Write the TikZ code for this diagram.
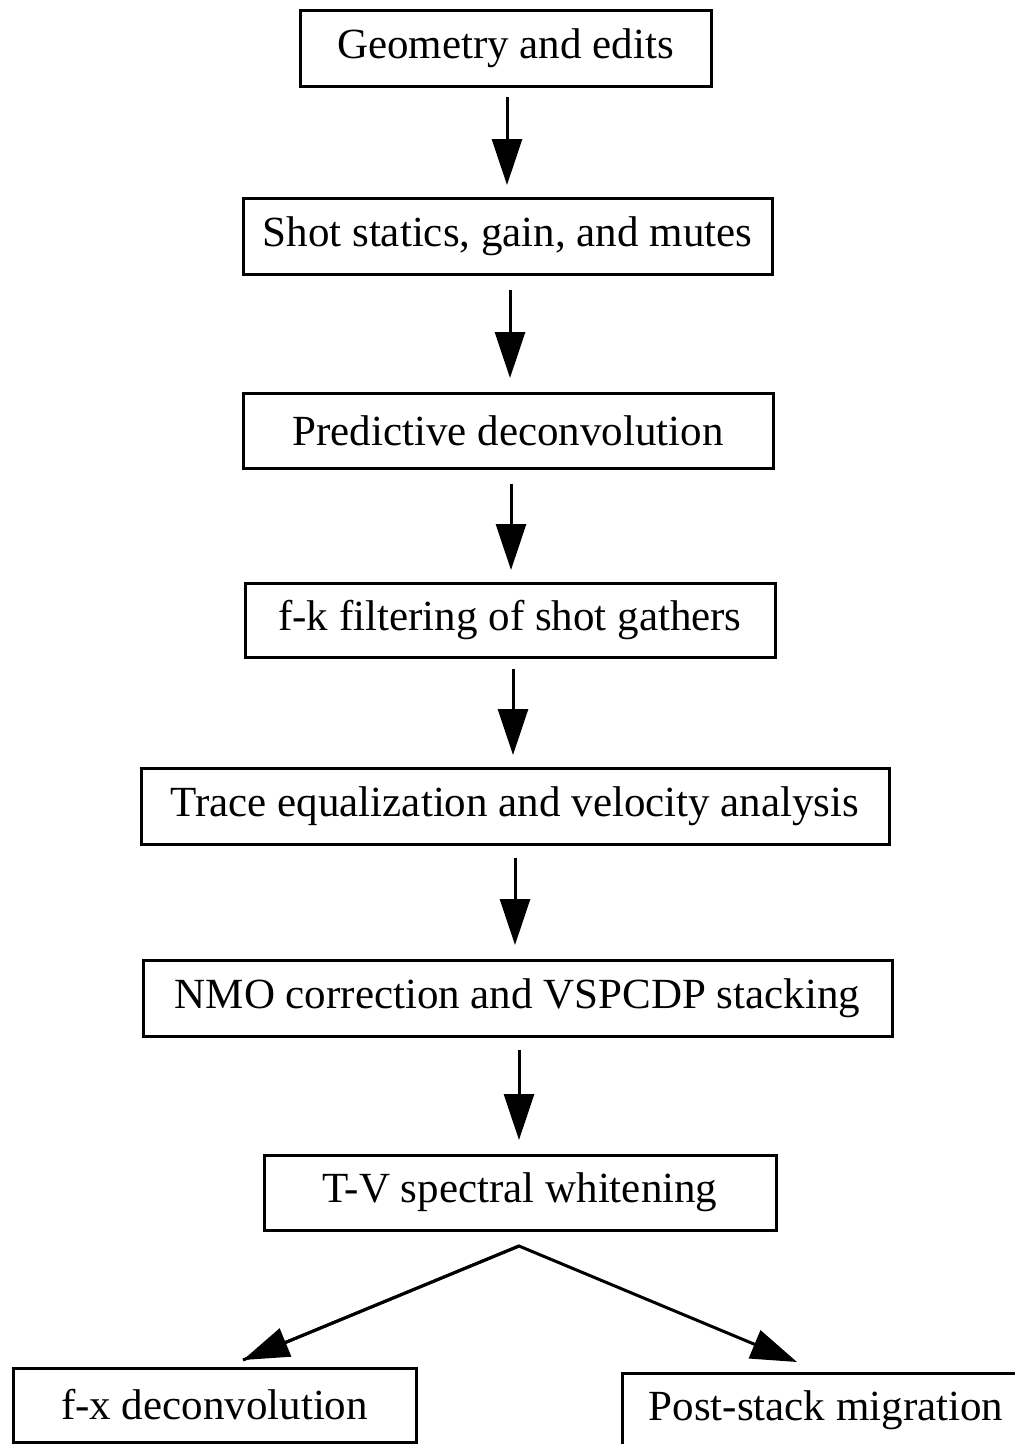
\documentclass[tikz,border=0pt]{standalone}
\usepackage{fontspec}
\setmainfont{Liberation Serif}
\usetikzlibrary{arrows.meta,calc}
\begin{document}
\begin{tikzpicture}[x=1pt,y=-1pt,
  stepbox/.style={draw=black,line width=3pt,inner sep=0pt,outer sep=0pt,
    font=\fontsize{43}{50}\selectfont,minimum height=#1},
  stepbox/.default=76pt,
  arr/.style={line width=3pt,-{Triangle[length=46pt,width=30pt]}}]
\useasboundingbox (0,0) rectangle (1015,1444);
\node[stepbox,minimum width=411pt] (b1) at (505.5,48) {Geometry and edits};
\node[stepbox,minimum width=529pt] (b2) at (507.5,236) {Shot statics, gain, and mutes};
\node[stepbox=75pt,minimum width=530pt] (b3) at (508,430.5) {Predictive deconvolution};
\node[stepbox=74pt,minimum width=530pt] (b4) at (510,620) {f-k filtering of shot gathers};
\node[stepbox,minimum width=748pt] (b5) at (515,806) {Trace equalization and velocity analysis};
\node[stepbox,minimum width=749pt] (b6) at (517.5,998) {NMO correction and VSPCDP stacking};
\node[stepbox=75pt,minimum width=512pt] (b7) at (520,1192.5) {T-V spectral whitening};
\node[stepbox=74pt,minimum width=403pt] (b8) at (214.5,1405) {f-x deconvolution};
\node[stepbox=74pt,minimum width=408pt] (b9) at (826,1410) {Post-stack migration};
\draw[arr,shorten <=11pt,shorten >=13pt] ([xshift=1.5pt]b1.south) -- ([xshift=1.5pt]b1.south |- b2.north);
\draw[arr,shorten <=16pt,shorten >=15pt] ([xshift=2.5pt]b2.south) -- ([xshift=2.5pt]b2.south |- b3.north);
\draw[arr,shorten <=16pt,shorten >=13pt] ([xshift=3pt]b3.south) -- ([xshift=3pt]b3.south |- b4.north);
\draw[arr,shorten <=12pt,shorten >=13pt] ([xshift=3pt]b4.south) -- ([xshift=3pt]b4.south |- b5.north);
\draw[arr,shorten <=14pt,shorten >=15pt] (b5.south) -- (b5.south |- b6.north);
\draw[arr,shorten <=14pt,shorten >=15pt] ([xshift=1.5pt]b6.south) -- ([xshift=1.5pt]b6.south |- b7.north);
\coordinate (fork) at ($(b7.south)+(-1,16)$);
\coordinate (ltip) at ($(b8.north)+(28.5,-8)$);
\coordinate (rtip) at ($(b9.north)+(-29,-11)$);
\draw[arr,line join=miter] (ltip) -- (fork) -- (rtip);
\draw[arr] (fork) -- (ltip);
\end{tikzpicture}
\end{document}
